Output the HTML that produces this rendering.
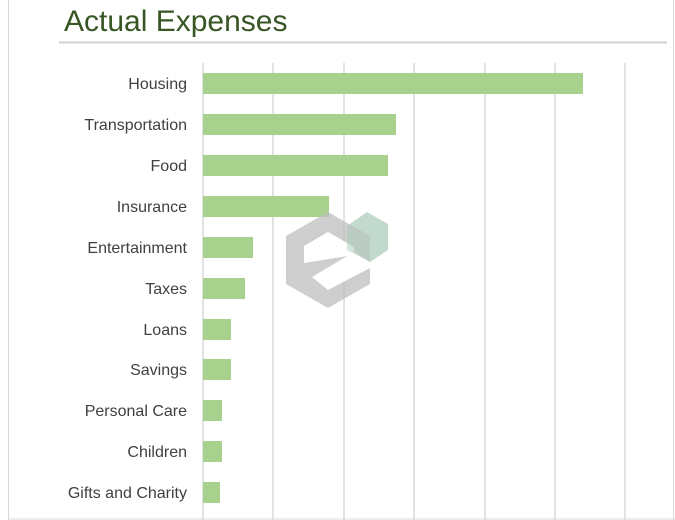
<!DOCTYPE html>
<html><head><meta charset="utf-8"><style>
html,body{margin:0;padding:0;background:#fff;}
body{width:675px;height:520px;position:relative;overflow:hidden;font-family:"Liberation Sans",sans-serif;}
</style></head><body>
<svg width="675" height="520" xmlns="http://www.w3.org/2000/svg" style="position:absolute;left:0;top:0">
<line x1="8.5" y1="0" x2="8.5" y2="520" stroke="#d9d9d9" stroke-width="1"/>
<line x1="673.5" y1="0" x2="673.5" y2="520" stroke="#d9d9d9" stroke-width="1"/>
<line x1="9" y1="519" x2="675" y2="519" stroke="#d9d9d9" stroke-width="1"/>
<text x="64" y="31" font-size="30" fill="#375623" font-family="Liberation Sans, sans-serif">Actual Expenses</text>
<line x1="59" y1="42.5" x2="667" y2="42.5" stroke="#d0d0d0" stroke-width="2"/>
<g stroke="#d9d9d9" stroke-width="1.5">
<line x1="203" y1="63" x2="203" y2="520"/>
<line x1="273" y1="63" x2="273" y2="520"/>
<line x1="344" y1="63" x2="344" y2="520"/>
<line x1="414" y1="63" x2="414" y2="520"/>
<line x1="485" y1="63" x2="485" y2="520"/>
<line x1="555" y1="63" x2="555" y2="520"/>
<line x1="625" y1="63" x2="625" y2="520"/>
</g>
<g fill="#a9d18e">
<rect x="203" y="73" width="380" height="21"/>
<rect x="203" y="114" width="193" height="21"/>
<rect x="203" y="155" width="185" height="21"/>
<rect x="203" y="196" width="126" height="21"/>
<rect x="203" y="237" width="50" height="21"/>
<rect x="203" y="278" width="42" height="21"/>
<rect x="203" y="319" width="28" height="21"/>
<rect x="203" y="359" width="28" height="21"/>
<rect x="203" y="400" width="19" height="21"/>
<rect x="203" y="441" width="19" height="21"/>
<rect x="203" y="482" width="17" height="21"/>
</g>
<g font-size="16" fill="#404040" text-anchor="end" font-family="Liberation Sans, sans-serif">
<text x="187" y="89">Housing</text>
<text x="187" y="130">Transportation</text>
<text x="187" y="171">Food</text>
<text x="187" y="212">Insurance</text>
<text x="187" y="253">Entertainment</text>
<text x="187" y="294">Taxes</text>
<text x="187" y="335">Loans</text>
<text x="187" y="375">Savings</text>
<text x="187" y="416">Personal Care</text>
<text x="187" y="457">Children</text>
<text x="187" y="498">Gifts and Charity</text>
</g>
<polygon points="347,226 367,212 388,224 388,250 370,262 370,238" fill="#a8cbb8" opacity="0.7"/>
<polygon points="328,212 370,236 370,284 328,308 286,284 286,236" fill="#bdbdbd" opacity="0.75"/>
<polygon points="304,246 328,232 354,247 354,255 304,263" fill="#fff"/>
<polygon points="312,277 354,252 370,262 370,268 328,290" fill="#fff"/>
<polygon points="347,226 370,238 370,262 347,250" fill="#a8cbb8" opacity="0.5"/>
</svg>
</body></html>
